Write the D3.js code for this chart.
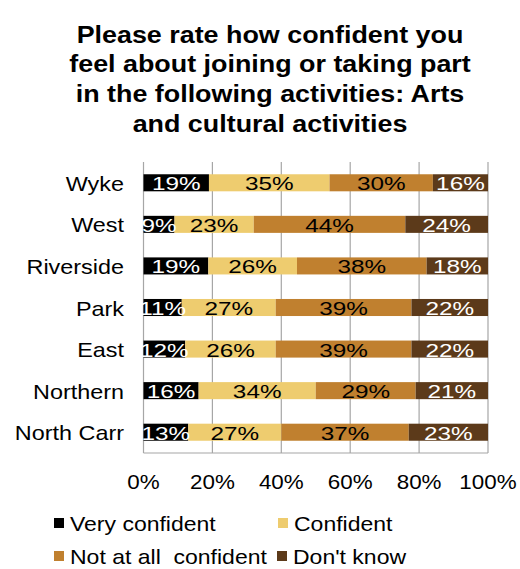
<!DOCTYPE html>
<html>
<head>
<meta charset="utf-8">
<script src="https://cdn.jsdelivr.net/npm/d3@7"></script>
<style>
  body { margin: 0; background: #fff; }
  text { font-family: "Liberation Sans", Arial, sans-serif; white-space: pre; }
</style>
</head>
<body>
<div id="chart"></div>
<script>
// donnees
const areas = ["Wyke", "West", "Riverside", "Park", "East", "Northern", "North Carr"];
const series = ["Very confident", "Confident", "Not at all  confident", "Don't know"];
const veryConfident = [19, 9, 19, 11, 12, 16, 13];
const confident = [35, 23, 26, 27, 26, 34, 27];
const notConfident = [30, 44, 38, 39, 39, 29, 37];
const dontKnow = [16, 24, 18, 22, 22, 21, 23];
const ticks = [0, 20, 40, 60, 80, 100];
const titleLines = ["Please rate how confident you", "feel about joining or taking part",
  "in the following activities: Arts", "and cultural activities"];

const colors = ["#000000", "#eecc6f", "#c0802f", "#5c3a1a"];
const labelColors = ["#fff", "#000", "#000", "#fff"];

const width = 520, height = 569;
const margin = { top: 162, left: 143.5, right: 32, bottom: 116 };

const rows = areas.map((a, i) => ({
  area: a,
  "Very confident": veryConfident[i],
  "Confident": confident[i],
  "Not at all  confident": notConfident[i],
  "Don't know": dontKnow[i]
}));

// 100% empile (les pourcentages arrondis ne font pas toujours 100)
const stacked = d3.stack().keys(series).offset(d3.stackOffsetExpand)(rows);

var svg = d3.select("#chart").append("svg")
  .attr("width", width)
  .attr("height", height);

const x = d3.scaleLinear().domain([0, 1]).range([margin.left, width - margin.right]);
const y = d3.scaleBand().domain(areas)
  .range([margin.top, height - margin.bottom])
  .paddingInner(0.59).paddingOuter(0.295);

// titre
svg.append("g").selectAll("text")
  .data(titleLines)
  .join("text")
  .attr("text-anchor", "middle")
  .attr("transform", (d, i) => "translate(270," + (42.5 + i * 29.8) + ") scale(1.12,1)")
  .style("font-size", "24px")
  .style("font-weight", "bold")
  .text(d => d);

// grille verticale
svg.append("g").selectAll("line")
  .data(ticks)
  .join("line")
  .attr("x1", d => x(d / 100)).attr("x2", d => x(d / 100))
  .attr("y1", margin.top).attr("y2", height - margin.bottom)
  .style("stroke", "#a6a6a6").style("stroke-width", 1.2);

svg.append("line")
  .attr("x1", x(0)).attr("x2", x(1))
  .attr("y1", height - margin.bottom).attr("y2", height - margin.bottom)
  .style("stroke", "#a6a6a6").style("stroke-width", 1.2);

// barres
const layers = svg.append("g").selectAll("g")
  .data(stacked)
  .join("g")
  .style("fill", (d, i) => colors[i]);

layers.selectAll("rect")
  .data(d => d)
  .join("rect")
  .attr("x", d => x(d[0]))
  .attr("y", d => y(d.data.area))
  .attr("width", d => x(d[1]) - x(d[0]))
  .attr("height", y.bandwidth());

// etiquettes des valeurs
svg.append("g").selectAll("g")
  .data(stacked)
  .join("g")
  .style("fill", (d, i) => labelColors[i])
  .selectAll("text")
  .data(d => d.map(v => Object.assign(v, { key: d.key })))
  .join("text")
  .attr("text-anchor", "middle")
  .attr("transform", d => "translate(" + x((d[0] + d[1]) / 2) + "," +
    (y(d.data.area) + y.bandwidth() / 2 + 7.5) + ") scale(1.28,1)")
  .style("font-size", "19px")
  .text(d => d.data[d.key] + "%");

// categories
svg.append("g").selectAll("text")
  .data(areas)
  .join("text")
  .attr("text-anchor", "end")
  .attr("transform", d => "translate(124," + (y(d) + y.bandwidth() / 2 + 8) + ") scale(1.17,1)")
  .style("font-size", "20px")
  .style("fill", "#000")
  .text(d => d);

// graduations
svg.append("g").selectAll("text")
  .data(ticks)
  .join("text")
  .attr("text-anchor", "middle")
  .attr("transform", d => "translate(" + x(d / 100) + ",489) scale(1.12,1)")
  .style("font-size", "20px")
  .text(d => d + "%");

// legende
const legendPos = [[54, 518], [278, 518], [54, 551], [277, 551]];
const legend = svg.append("g").selectAll("g")
  .data(series)
  .join("g")
  .attr("transform", (d, i) => "translate(" + legendPos[i][0] + "," + legendPos[i][1] + ")");

legend.append("rect")
  .attr("width", 10).attr("height", 10)
  .style("fill", (d, i) => colors[i]);

legend.append("text")
  .attr("transform", "translate(16,12.5) scale(1.15,1)")
  .style("font-size", "20px")
  .text(d => d);
</script>
</body>
</html>
